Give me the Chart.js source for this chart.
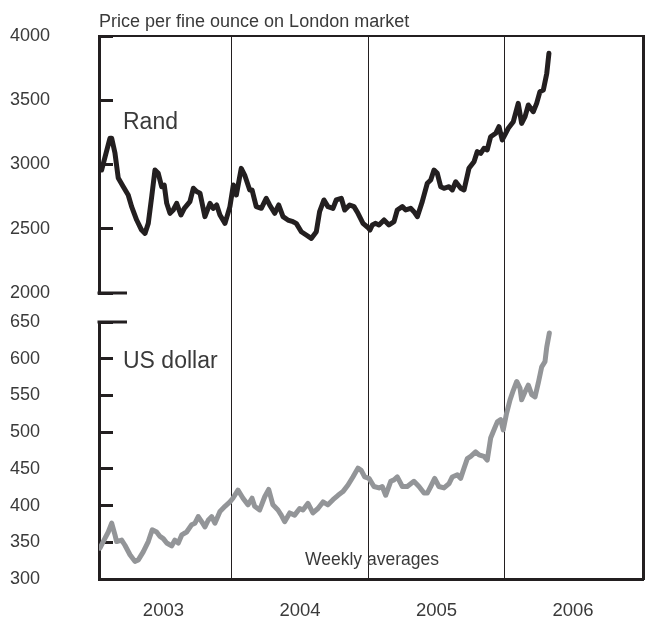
<!DOCTYPE html>
<html>
<head>
<meta charset="utf-8">
<script src="https://cdn.jsdelivr.net/npm/chart.js@4.4.1/dist/chart.umd.min.js"></script>
<style>
  body { margin: 0; background: #fff; }
  #wrap { position: relative; width: 652px; height: 621px; font-family: "Liberation Sans", Arial, sans-serif; color: #3a3a3a; }
  #wrap canvas { position: absolute; left: 0; top: 0; }
  .lbl { position: absolute; white-space: nowrap; line-height: 1; }
</style>
</head>
<body>
<div id="wrap">
  <canvas id="goldPrice" width="652" height="621"></canvas>
  <div class="lbl" style="left:99px;top:12px;font-size:18px">Price per fine ounce on London market</div>
  <div class="lbl" style="left:123px;top:110px;font-size:23px">Rand</div>
  <div class="lbl" style="left:123px;top:349px;font-size:23px">US dollar</div>
  <div class="lbl" style="left:305px;top:551px;font-size:17.5px">Weekly averages</div>
</div>
<script>
// --- data ---
const yearTicks = [2003, 2004, 2005, 2006, 2007];
const yearLabels = ["2003", "2004", "2005", "2006", ""];

const randYears = [
  2003.045, 2003.106, 2003.119, 2003.143, 2003.167, 2003.204, 2003.240, 2003.265, 2003.302, 2003.338,
  2003.363, 2003.387, 2003.412, 2003.436, 2003.460, 2003.485, 2003.504, 2003.522, 2003.546, 2003.570,
  2003.595, 2003.626, 2003.651, 2003.692, 2003.717, 2003.741, 2003.766, 2003.802, 2003.839, 2003.863,
  2003.888, 2003.912, 2003.949, 2003.985, 2004.010, 2004.032, 2004.068, 2004.093, 2004.130, 2004.147,
  2004.178, 2004.215, 2004.251, 2004.276, 2004.313, 2004.342, 2004.374, 2004.410, 2004.447, 2004.471,
  2004.508, 2004.544, 2004.581, 2004.618, 2004.642, 2004.674, 2004.703, 2004.740, 2004.764, 2004.801,
  2004.826, 2004.862, 2004.894, 2004.923, 2004.960, 2004.996, 2005.011, 2005.028, 2005.053, 2005.077,
  2005.114, 2005.150, 2005.187, 2005.211, 2005.248, 2005.273, 2005.309, 2005.333, 2005.358, 2005.394,
  2005.431, 2005.456, 2005.480, 2005.504, 2005.529, 2005.553, 2005.590, 2005.614, 2005.639, 2005.676,
  2005.700, 2005.736, 2005.773, 2005.797, 2005.822, 2005.846, 2005.870, 2005.895, 2005.932, 2005.956,
  2005.980, 2006.005, 2006.024, 2006.061, 2006.097, 2006.122, 2006.147, 2006.171, 2006.207, 2006.232,
  2006.256, 2006.281, 2006.306, 2006.322
];
const randValues = [
  2957, 3204, 3204, 3089, 2895, 2827, 2763, 2672, 2568, 2490,
  2464, 2542, 2749, 2957, 2931, 2827, 2840, 2698, 2620, 2646,
  2698, 2607, 2659, 2711, 2815, 2789, 2776, 2594, 2698, 2659,
  2685, 2607, 2542, 2672, 2840, 2763, 2970, 2918, 2802, 2802,
  2672, 2659, 2737, 2685, 2620, 2685, 2594, 2568, 2555, 2542,
  2477, 2451, 2425, 2477, 2633, 2724, 2672, 2659, 2724, 2737,
  2646, 2685, 2672, 2620, 2542, 2510, 2490, 2529, 2542, 2529,
  2568, 2529, 2555, 2646, 2672, 2646, 2659, 2633, 2594, 2711,
  2854, 2879, 2957, 2931, 2827, 2815, 2827, 2802, 2866, 2815,
  2802, 2970, 3022, 3100, 3087, 3126, 3113, 3216, 3243, 3294,
  3191, 3243, 3282, 3333, 3476, 3320, 3372, 3463, 3411, 3476,
  3567, 3580, 3709, 3865
];

const usdYears = [
  2003.033, 2003.057, 2003.094, 2003.119, 2003.143, 2003.155, 2003.192, 2003.216, 2003.253, 2003.289,
  2003.314, 2003.350, 2003.387, 2003.416, 2003.448, 2003.473, 2003.497, 2003.522, 2003.558, 2003.582,
  2003.607, 2003.632, 2003.668, 2003.705, 2003.729, 2003.753, 2003.778, 2003.802, 2003.826, 2003.851,
  2003.875, 2003.912, 2003.949, 2003.985, 2004.007, 2004.044, 2004.081, 2004.117, 2004.147, 2004.166,
  2004.203, 2004.240, 2004.269, 2004.300, 2004.337, 2004.361, 2004.386, 2004.423, 2004.459, 2004.496,
  2004.520, 2004.557, 2004.593, 2004.630, 2004.667, 2004.703, 2004.740, 2004.777, 2004.813, 2004.850,
  2004.886, 2004.923, 2004.947, 2004.972, 2005.004, 2005.040, 2005.077, 2005.101, 2005.126, 2005.163,
  2005.187, 2005.211, 2005.248, 2005.284, 2005.333, 2005.370, 2005.407, 2005.431, 2005.456, 2005.485,
  2005.516, 2005.553, 2005.590, 2005.614, 2005.651, 2005.675, 2005.700, 2005.724, 2005.749, 2005.785,
  2005.810, 2005.846, 2005.870, 2005.895, 2005.919, 2005.944, 2005.968, 2005.987, 2006.012, 2006.037,
  2006.061, 2006.086, 2006.110, 2006.122, 2006.147, 2006.171, 2006.196, 2006.220, 2006.244, 2006.269,
  2006.293, 2006.306, 2006.325
];
const usdValues = [
  342, 351, 364, 376, 360, 351, 353, 346, 333, 324,
  326, 337, 351, 367, 364, 358, 355, 349, 345, 353,
  349, 360, 364, 374, 376, 385, 378, 371, 380, 385,
  376, 392, 399, 405, 410, 421, 410, 401, 410, 399,
  394, 412, 422, 401, 394, 387, 378, 390, 387, 396,
  394, 403, 390, 396, 405, 401, 408, 414, 419, 428,
  439, 451, 448, 439, 437, 426, 424, 426, 414, 433,
  435, 439, 426, 426, 433, 426, 417, 417, 426, 437,
  426, 424, 430, 439, 442, 437, 451, 464, 467, 473,
  469, 467, 462, 492, 503, 514, 517, 503, 526, 544,
  557, 569, 560, 544, 555, 564, 551, 548, 567, 589,
  596, 616, 635
];

// --- styles ---
const INK = "#231f20";
const GREY_LINE = "#939598";
const TEXT = "#3a3a3a";
const FONT = "'Liberation Sans', Arial, sans-serif";
const X_MIN = 2003.026;
const X_MAX = 2007.011;

Chart.defaults.font.family = FONT;

// horizontal caps closing the bottom of the rand panel and the top of the dollar panel
const panelCaps = {
  id: "panelCaps",
  afterDraw(chart) {
    const ctx = chart.ctx;
    const left = chart.chartArea.left;
    const rand = chart.scales.yRand;
    const usd = chart.scales.yUsd;
    ctx.save();
    ctx.strokeStyle = INK;
    ctx.lineWidth = 3;
    [rand.getPixelForValue(rand.min), usd.getPixelForValue(usd.max)].forEach(function (y) {
      ctx.beginPath();
      ctx.moveTo(left - 1.5, y);
      ctx.lineTo(left + 28, y);
      ctx.stroke();
    });
    ctx.restore();
  },
};

function panelAxis(min, max, step, weight) {
  return {
    type: "linear",
    position: "left",
    stack: "panels",
    stackWeight: weight,
    min: min,
    max: max,
    afterFit: function (s) { s.width = 89; },
    ticks: {
      stepSize: step,
      autoSkip: false,
      crossAlign: "far",
      color: TEXT,
      font: { size: 18 },
      callback: function (v) { return String(v); },
    },
    grid: { drawOnChartArea: false, drawTicks: true, tickLength: -14, tickWidth: 3, tickColor: INK },
    border: { color: INK, width: 3 },
  };
}

const goldChart = new Chart(document.getElementById("goldPrice"), {
  type: "line",
  data: {
    datasets: [
      {
        label: "Rand",
        data: randYears.map(function (x, i) { return { x: x, y: randValues[i] }; }),
        xAxisID: "x",
        yAxisID: "yRand",
        borderColor: INK,
        borderWidth: 5,
        pointRadius: 0,
        tension: 0,
        borderJoinStyle: "round",
        borderCapStyle: "round",
        fill: false,
      },
      {
        label: "US dollar",
        data: usdYears.map(function (x, i) { return { x: x, y: usdValues[i] }; }),
        xAxisID: "x",
        yAxisID: "yUsd",
        borderColor: GREY_LINE,
        borderWidth: 5,
        pointRadius: 0,
        tension: 0,
        borderJoinStyle: "round",
        borderCapStyle: "round",
        fill: false,
      },
    ],
  },
  options: {
    responsive: false,
    animation: false,
    events: [],
    layout: { padding: { left: 10, top: 36, right: 9, bottom: 0 } },
    plugins: { legend: { display: false }, tooltip: { enabled: false } },
    scales: {
      x: {
        type: "linear",
        position: "bottom",
        min: X_MIN,
        max: X_MAX,
        afterBuildTicks: function (s) { s.ticks = yearTicks.map(function (v) { return { value: v }; }); },
        afterFit: function (s) { s.height = 42; },
        ticks: {
          padding: 0,
          labelOffset: 68,
          maxRotation: 0,
          autoSkip: false,
          color: TEXT,
          font: { size: 18.5 },
          callback: function (v, i) { return yearLabels[i]; },
        },
        grid: {
          drawTicks: true,
          tickLength: 21,
          tickColor: "rgba(0,0,0,0)",
          lineWidth: 1,
          color: function (c) {
            return c.tick && c.tick.value > X_MIN && c.tick.value < X_MAX - 0.05 ? INK : "rgba(0,0,0,0)";
          },
        },
        border: { color: INK, width: 3 },
      },
      xTop: {
        type: "linear",
        position: "top",
        min: X_MIN,
        max: X_MAX,
        afterFit: function (s) { s.height = 0; },
        ticks: { display: false },
        grid: { drawOnChartArea: false, drawTicks: false },
        border: { color: INK, width: 2 },
      },
      yUsd: panelAxis(300, 650, 50, 257),
      yGap: {
        type: "linear",
        position: "left",
        stack: "panels",
        stackWeight: 29,
        min: 0,
        max: 1,
        afterFit: function (s) { s.width = 89; },
        ticks: { display: false },
        grid: { display: false },
        border: { display: false },
      },
      yRand: panelAxis(2000, 4000, 500, 257),
      yRight: {
        type: "linear",
        position: "right",
        min: 0,
        max: 1,
        afterFit: function (s) { s.width = 0; },
        ticks: { display: false },
        grid: { drawOnChartArea: false, drawTicks: false },
        border: { color: INK, width: 3 },
      },
    },
  },
  plugins: [panelCaps],
});
</script>
</body>
</html>
